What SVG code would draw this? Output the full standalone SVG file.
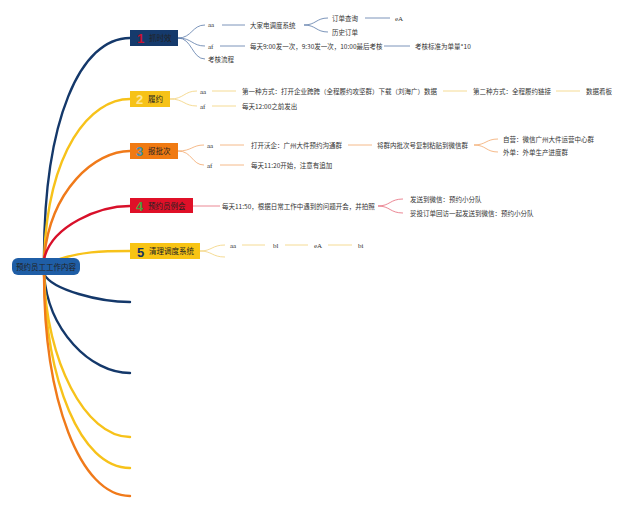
<svg xmlns="http://www.w3.org/2000/svg" width="640" height="508" viewBox="0 0 640 508">
<style>
.t{font-family:"Noto Sans CJK SC","Noto Sans",sans-serif;font-size:6.5px;fill:#333}
.s{font-family:"Liberation Serif",serif;font-size:7px;fill:#333}
.nl{font-family:"Noto Sans CJK SC",sans-serif;font-size:7.5px;fill:#222}
.num{font-family:"Liberation Sans",sans-serif;font-weight:bold;font-size:13px}
.b{fill:none;stroke-width:2.4;stroke-linecap:round}
.c{fill:none;stroke-width:0.8}
.navy{stroke:#14386a}.yel{stroke:#f7c21a}.org{stroke:#f07a1a}.red{stroke:#d8102a}
.cn{stroke:#5a7aa8}.cy{stroke:#f3d27a}.co{stroke:#f2a86c}.cr{stroke:#e66a7a}
</style>
<rect width="640" height="508" fill="#fff"/>
<g id="connectors">
<path class="b navy" d="M44,259 C44,120 80,38 130,38"/>
<path class="b yel" d="M44,259 C48,150 90,99 130,99"/>
<path class="b org" d="M44,259 C50,190 95,151 130,151"/>
<path class="b red" d="M44,259 C52,225 100,206 130,206"/>
<path class="b yel" d="M60,259 C80,252 100,251 130,251"/>
<path class="b navy" d="M44,274 C52,290 100,302 130,302"/>
<path class="b navy" d="M44,274 C48,330 90,373 130,373"/>
<path class="b yel" d="M44,274 C46,360 85,437 130,437"/>
<path class="b yel" d="M44,274 C46,380 80,468 130,468"/>
<path class="b org" d="M44,274 C44,400 80,496 130,496"/>
<!-- node1 children -->
<path class="c cn" d="M178,38 C192,38 192,25 205,25"/>
<path class="c cn" d="M178,38 C192,38 192,46 205,46"/>
<path class="c cn" d="M178,38 C192,38 192,59 205,59"/>
<path class="c cn" d="M222,25 H245"/>
<path class="c cn" d="M304,25 C316,25 316,18 328,18"/>
<path class="c cn" d="M304,25 C316,25 316,32 328,32"/>
<path class="c cn" d="M365,18 H390"/>
<path class="c cn" d="M220,46 H245"/>
<path class="c cn" d="M384,46 H410"/>
<!-- node2 children -->
<path class="c cy" d="M170,99 C184,99 184,91 197,91"/>
<path class="c cy" d="M170,99 C184,99 184,106 197,106"/>
<path class="c cy" d="M212,91 H236"/>
<path class="c cy" d="M443,91 H467"/>
<path class="c cy" d="M556,91 H580"/>
<path class="c cy" d="M212,106 H236"/>
<!-- node3 children -->
<path class="c co" d="M178,151 C192,151 192,145 204,145"/>
<path class="c co" d="M178,151 C192,151 192,165 204,165"/>
<path class="c co" d="M220,145 H244"/>
<path class="c co" d="M348,145 H372"/>
<path class="c co" d="M474,145 C486,145 486,139 498,139"/>
<path class="c co" d="M474,145 C486,145 486,152 498,152"/>
<path class="c co" d="M220,165 H244"/>
<!-- node4 children -->
<path class="c cr" d="M193,206 H220"/>
<path class="c cr" d="M378,206 C390,206 390,199 403,199"/>
<path class="c cr" d="M378,206 C390,206 390,213 403,213"/>
<!-- node5 children -->
<path class="c cy" d="M200,251 C212,251 212,245 225,245"/>
<path class="c cy" d="M200,251 C212,251 212,257 225,257"/>
<path class="c cy" d="M242,245 H265"/>
<path class="c cy" d="M285,245 H308"/>
<path class="c cy" d="M328,245 H352"/>
</g>
<g id="root">
<rect x="12" y="258" width="68" height="17" rx="6" fill="#1f5ea6"/>
<text class="nl" x="46" y="269.5" text-anchor="middle">预约员工工作内容</text>
</g>
<g id="n1">
<rect x="130" y="30" width="48" height="16" fill="#153a6c"/>
<text class="num" x="137" y="43" fill="#c8102e">1</text>
<text class="nl" x="149" y="41">抓时效</text>
</g>
<g id="n2">
<rect x="130" y="91" width="40" height="16" fill="#f6c218"/>
<text class="num" x="136" y="104" fill="#fde79a">2</text>
<text class="nl" x="148" y="102">履约</text>
</g>
<g id="n3">
<rect x="130" y="143" width="48" height="16" fill="#f07a12"/>
<text class="num" x="136" y="156" fill="#3e8fb0">3</text>
<text class="nl" x="148" y="154">报批次</text>
</g>
<g id="n4">
<rect x="130" y="198" width="63" height="15" fill="#e01028"/>
<text class="num" x="136" y="210.5" fill="#4aa040">4</text>
<text class="nl" x="148" y="208.5">预约员例会</text>
</g>
<g id="n5">
<rect x="130" y="243" width="70" height="16" fill="#f8c414"/>
<text class="num" x="137" y="256.5" fill="#15325e">5</text>
<text class="nl" x="149" y="254">清理调度系统</text>
</g>
<g id="labels">
<text class="s" x="208" y="27">aa</text>
<text class="t" x="250" y="27.5">大家电调度系统</text>
<text class="t" x="332" y="20.5">订单查询</text>
<text class="s" x="395" y="20.5">eA</text>
<text class="t" x="332" y="34.5">历史订单</text>
<text class="s" x="208" y="48.5">af</text>
<text class="t" x="250" y="48.5">每天9:00发一次，9:30发一次，10:00最后考核</text>
<text class="t" x="415" y="48.5">考核标准为单量*10</text>
<text class="t" x="208" y="61.5">考核流程</text>

<text class="s" x="200" y="93.5">aa</text>
<text class="t" x="242" y="93.5">第一种方式：打开企业跨跨（全程履约攻坚群）下载（刘海广）数据</text>
<text class="t" x="473" y="93.5">第二种方式：全程履约链接</text>
<text class="t" x="586" y="93.5">数据看板</text>
<text class="s" x="200" y="108.5">af</text>
<text class="t" x="242" y="108.5">每天12:00之前发出</text>

<text class="s" x="207" y="147.5">aa</text>
<text class="t" x="251" y="147.5">打开沃企：广州大件预约沟通群</text>
<text class="t" x="377" y="147.5">将群内批次号复制粘贴到微信群</text>
<text class="t" x="503" y="141.5">自营：微信广州大件运营中心群</text>
<text class="t" x="503" y="154.5">外单：外单生产进度群</text>
<text class="s" x="207" y="167.5">af</text>
<text class="t" x="251" y="167.5">每天11:20开始，注意有追加</text>

<text class="t" x="222" y="208.5">每天11:50，根据日常工作中遇到的问题开会，并拍照</text>
<text class="t" x="410" y="201.5">发送到微信：预约小分队</text>
<text class="t" x="410" y="215.5">妥投订单回访一起发送到微信：预约小分队</text>

<text class="s" x="230" y="247.5">aa</text>
<text class="s" x="273" y="247.5">bl</text>
<text class="s" x="314" y="247.5">eA</text>
<text class="s" x="358" y="247.5">bi</text>
</g>
</svg>
